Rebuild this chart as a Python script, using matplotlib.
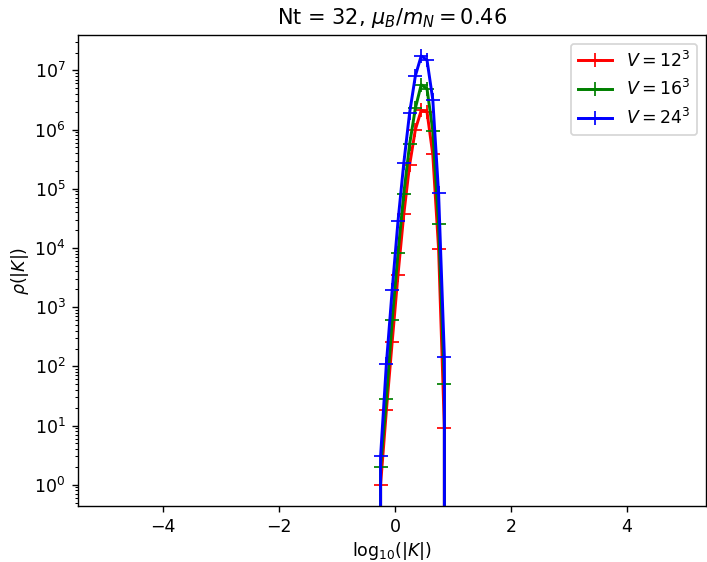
import matplotlib
matplotlib.use('Agg')
import matplotlib.pyplot as plt
import numpy as np

# bin centres of log10(|K|), zero counts just outside the populated range
x = [-0.35, -0.25, -0.15, -0.05, 0.05, 0.15, 0.25, 0.35, 0.45, 0.55, 0.65, 0.75, 0.85, 0.95]

rho_12 = [0, 1, 18, 258, 3.5e3, 3.7e4, 2.5e5, 1.0e6, 2.1e6, 2.0e6, 3.8e5, 9.6e3, 9, 0]
rho_16 = [0, 2, 28, 600, 8.2e3, 8.2e4, 5.6e5, 2.3e6, 5.7e6, 4.9e6, 9.6e5, 2.5e4, 50, 0]
rho_24 = [0, 3, 110, 1.95e3, 2.8e4, 2.7e5, 1.9e6, 8.1e6, 1.75e7, 1.5e7, 3.2e6, 8.4e4, 142, 0]

labels = [r'$V = 12^3$', r'$V = 16^3$', r'$V = 24^3$']
colors = ['red', 'green', 'blue']

fig, ax = plt.subplots(figsize=(707 / 125, 562 / 125), dpi=125)
fig.subplots_adjust(left=0.110, right=0.9986, top=0.938, bottom=0.0996)

for rho, lab, c in zip([rho_12, rho_16, rho_24], labels, colors):
    ax.plot(x, rho, '-+', color=c, label=lab, lw=1.7, markersize=8, markeredgewidth=1.0)

ax.set_yscale('log', nonpositive='clip')
ax.set_xlim(-5.47, 5.36)
ax.set_ylim(10 ** -0.36, 10 ** 7.6)
ax.set_xlabel(r'log$_{10}$(|$K$|)', labelpad=2)
ax.set_ylabel(r'$\rho(|K|)$', labelpad=2)
ax.set_title(r'Nt = 32, $\mu_B/m_N = 0.46$')
ax.legend(loc='upper right')

fig.savefig('out.png', dpi=125)
